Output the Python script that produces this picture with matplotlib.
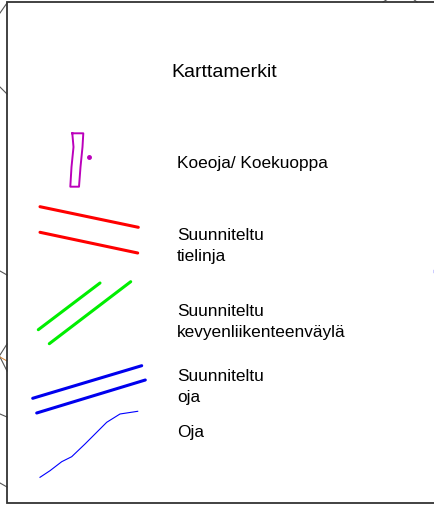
import matplotlib

matplotlib.use("Agg")
import matplotlib.pyplot as plt

# Legend ("Karttamerkit") of a map sheet, in pixel coordinates of the crop
W, H = 435, 506

title = "Karttamerkit"
title_xy = (224, 77)

# label lines: (text, baseline y)
label_x = 177
label_lines = [
    ("Koeoja/ Koekuoppa", 168),
    ("Suunniteltu", 240),
    ("tielinja", 261),
    ("Suunniteltu", 316),
    ("kevyenliikenteenväylä", 337),
    ("Suunniteltu", 381),
    ("oja", 402),
    ("Oja", 437),
]

# symbols
pit_x = [72.3, 83.3, 82.5, 80.5, 79.0, 70.3, 71.5, 73.5, 72.3]
pit_y = [134.3, 134.3, 148.0, 168.0, 187.7, 187.7, 168.0, 148.0, 134.3]
pit_dot = (89.0, 157.7)

road_x = [[40.0, 138.3], [40.0, 137.7]]
road_y = [[207.7, 228.3], [233.3, 254.0]]

cycle_x = [[38.3, 100.0], [49.3, 130.7]]
cycle_y = [[330.7, 284.0], [344.7, 282.7]]

ditch_plan_x = [[32.7, 141.7], [36.7, 145.3]]
ditch_plan_y = [[399.3, 366.7], [414.0, 381.0]]

ditch_x = [40.0, 50.0, 61.7, 71.7, 85.0, 106.7, 120.0, 137.7]
ditch_y = [478.3, 471.7, 462.7, 457.7, 445.0, 423.3, 415.0, 412.3]

# bits of the underlying map poking out around the legend frame
bg_lines = [
    ([0, 7], [14, 4]),
    ([0, 7], [88, 95]),
    ([0, 7], [272, 276]),
    ([0, 7], [356, 345]),
    ([0, 7], [358, 372]),
    ([0, 7], [415, 418]),
    ([0, 7], [484, 488]),
    ([383, 388], [3, 0]),
    ([413, 417], [0, 3]),
]

fig = plt.figure(figsize=(W / 100, H / 100), dpi=100)
ax = fig.add_axes([0, 0, 1, 1])
ax.set_xlim(0, W)
ax.set_ylim(H, 0)
ax.axis("off")

for xs, ys in bg_lines:
    ax.plot(xs, ys, color="#555555", lw=0.8)
ax.plot([0, 7], [358, 362], color="#d08030", lw=0.7)

# frame
ax.plot([W + 5, 7, 7, W + 5], [3, 3, 504, 504], color="#333333", lw=1.3,
        solid_joinstyle="miter")
ax.plot([434, 434], [271, 273], color="blue", lw=1.0)

family = ["Liberation Sans", "DejaVu Sans"]
ax.text(*title_xy, title, ha="center", va="baseline", family=family,
        fontsize=14, color="black")
for txt, y in label_lines:
    ax.text(label_x, y, txt, ha="left", va="baseline", family=family,
            fontsize=12.4, color="black")

ax.plot(pit_x, pit_y, color="#bb00bb", lw=1.4)
ax.plot(*pit_dot, "o", color="#bb00bb", ms=2.5)

for xs, ys in zip(road_x, road_y):
    ax.plot(xs, ys, color="#ff0000", lw=2.2, solid_capstyle="round")
for xs, ys in zip(cycle_x, cycle_y):
    ax.plot(xs, ys, color="#00ee00", lw=2.2, solid_capstyle="round")
for xs, ys in zip(ditch_plan_x, ditch_plan_y):
    ax.plot(xs, ys, color="#0000ee", lw=2.2, solid_capstyle="round")
ax.plot(ditch_x, ditch_y, color="#0000ff", lw=0.8)

fig.savefig("out.png", dpi=100)
